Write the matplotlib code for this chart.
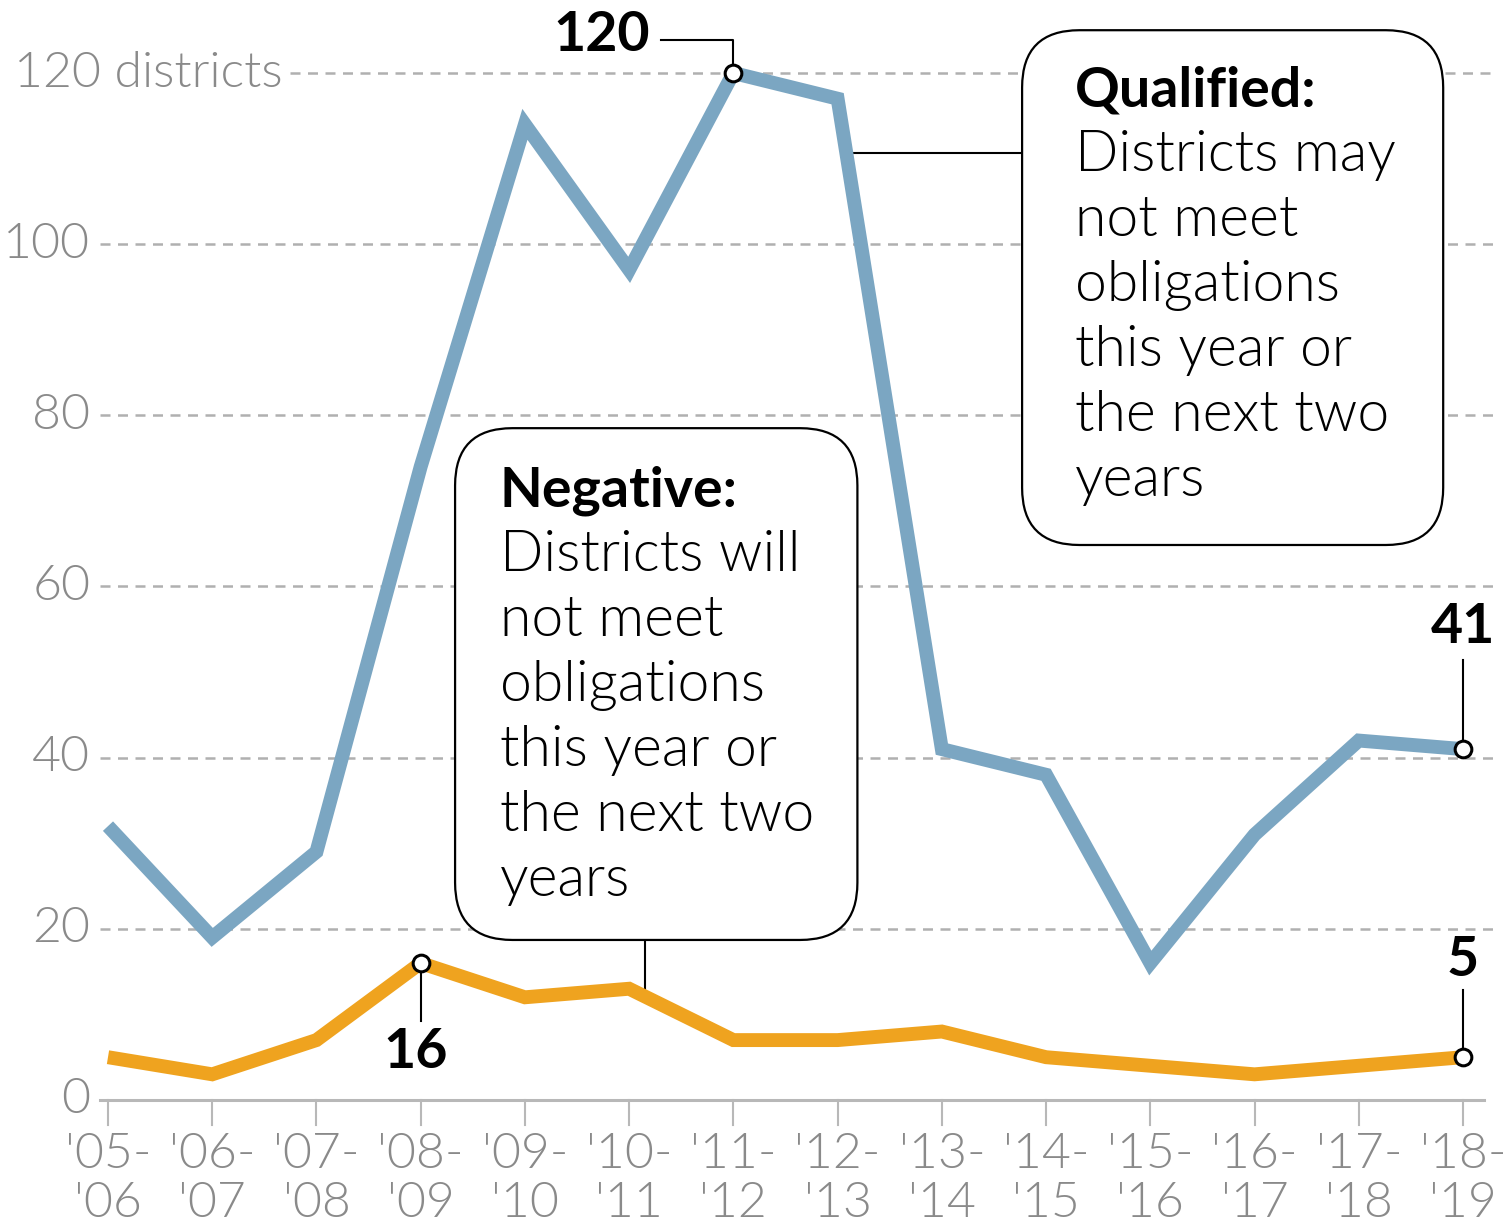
import numpy as np
import matplotlib
matplotlib.use("Agg")
import matplotlib.pyplot as plt
from matplotlib.patches import FancyBboxPatch

plt.rcParams['font.family'] = ['Lato', 'DejaVu Sans']

# school years
years = ["'05-\n'06", "'06-\n'07", "'07-\n'08", "'08-\n'09", "'09-\n'10", "'10-\n'11",
         "'11-\n'12", "'12-\n'13", "'13-\n'14", "'14-\n'15", "'15-\n'16", "'16-\n'17",
         "'17-\n'18", "'18-\n'19"]
qualified = [32, 19, 29, 74, 114, 97, 120, 117, 41, 38, 16, 31, 42, 41]
negative = [5, 3, 7, 16, 12, 13, 7, 7, 8, 5, 4, 3, 4, 5]
y_ticks = [0, 20, 40, 60, 80, 100, 120]
y_labels = ["0", "20", "40", "60", "80", "100", "120 districts"]

blue = "#7ba6c2"
orange = "#efa31f"
gray = "#8a8a8a"
grid_gray = "#b0b0b0"

x = np.arange(len(years))

fig = plt.figure(figsize=(15.05, 12.27), dpi=100)
ax = fig.add_axes([0, 0, 1, 1])
ax.set_xlim(-1.036, 13.403)
ax.set_ylim(-14.84, 128.53)
ax.axis('off')

# gridlines + y labels
for v, lab in zip(y_ticks, y_labels):
    if v == 0:
        ax.plot([-0.08, 13.2], [0, 0], color="#b8b8b8", lw=2.2, zorder=1)
    else:
        x0 = 1.75 if v == 120 else -0.08
        ax.plot([x0, 13.3], [v, v], color=grid_gray, lw=1.8,
                dashes=(4, 3), zorder=1)
    ax.text(-0.17 if v != 120 else 1.68, v, lab, ha='right', va='center',
            fontsize=36, color=gray, fontweight=300)

# x ticks and labels
for xi, lab in zip(x, years):
    ax.plot([xi, xi], [0, -2.9], color="#b8b8b8", lw=1.5, zorder=1)
    ax.text(xi, -3.7, lab, ha='center', va='top', fontsize=36, color=gray,
            fontweight=300, linespacing=1.12)

# series lines
ax.plot(x, qualified, color=blue, lw=10, solid_joinstyle='miter',
        solid_capstyle='butt', zorder=3)
ax.plot(x, negative, color=orange, lw=10, solid_joinstyle='miter',
        solid_capstyle='butt', zorder=3)

# rounded boxes
xpx = fig.bbox.width / (ax.get_xlim()[1] - ax.get_xlim()[0])
ypx = fig.bbox.height / (ax.get_ylim()[1] - ax.get_ylim()[0])
aspect = xpx / ypx


def box(x0, y0, x1, y1):
    p = FancyBboxPatch((x0, y0), x1 - x0, y1 - y0,
                       boxstyle="round,pad=0,rounding_size=0.55",
                       mutation_aspect=aspect, facecolor='white',
                       edgecolor='black', lw=1.6, zorder=4,
                       transform=ax.transData)
    ax.add_patch(p)


def box_text(xl, ytop, title, lines):
    step = 65 / ypx
    ax.text(xl, ytop, title, ha='left', va='center', fontsize=40,
            fontweight='bold', zorder=5)
    for i, ln in enumerate(lines):
        ax.text(xl, ytop - (i + 1) * step, ln, ha='left', va='center',
                fontsize=41, fontweight=300, zorder=5)


# Negative box
box(3.33, 18.7, 7.19, 78.5)
box_text(3.76, 71.2, "Negative:",
         ["Districts will", "not meet", "obligations", "this year or",
          "the next two", "years"])
ax.plot([5.15, 5.15], [18.7, 12.4], color='black', lw=1.5, zorder=2)

# Qualified box
box(8.77, 64.85, 12.81, 125.0)
box_text(9.28, 117.9, "Qualified:",
         ["Districts may", "not meet", "obligations", "this year or",
          "the next two", "years"])
ax.plot([7.08, 8.77], [110.7, 110.7], color='black', lw=1.5, zorder=2)

# callouts
mk = dict(marker='o', ms=12, mfc='white', mec='black', mew=2.2, zorder=6)
lead = dict(color='black', lw=1.5, zorder=5)

i = 6
ax.plot([x[i], x[i], 5.31], [qualified[i], 123.9, 123.9], **lead)
ax.plot(x[i], qualified[i], **mk)
ax.text(5.2, 124.4, str(qualified[i]), ha='right', va='center',
        fontsize=40, fontweight='bold')

i = 13
ax.plot([x[i], x[i]], [qualified[i], 51.4], **lead)
ax.plot(x[i], qualified[i], **mk)
ax.text(x[i], 52.4, str(qualified[i]), ha='center', va='bottom',
        fontsize=40, fontweight='bold')

ax.plot([x[i], x[i]], [negative[i], 12.8], **lead)
ax.plot(x[i], negative[i], **mk)
ax.text(x[i], 13.4, str(negative[i]), ha='center', va='bottom',
        fontsize=40, fontweight='bold')

i = 3
ax.plot([x[i], x[i]], [negative[i], 9.2], **lead)
ax.plot(x[i], negative[i], **mk)
ax.text(x[i] - 0.05, 5.6, str(negative[i]), ha='center', va='center',
        fontsize=40, fontweight='bold')

fig.savefig("out.png", dpi=100)
